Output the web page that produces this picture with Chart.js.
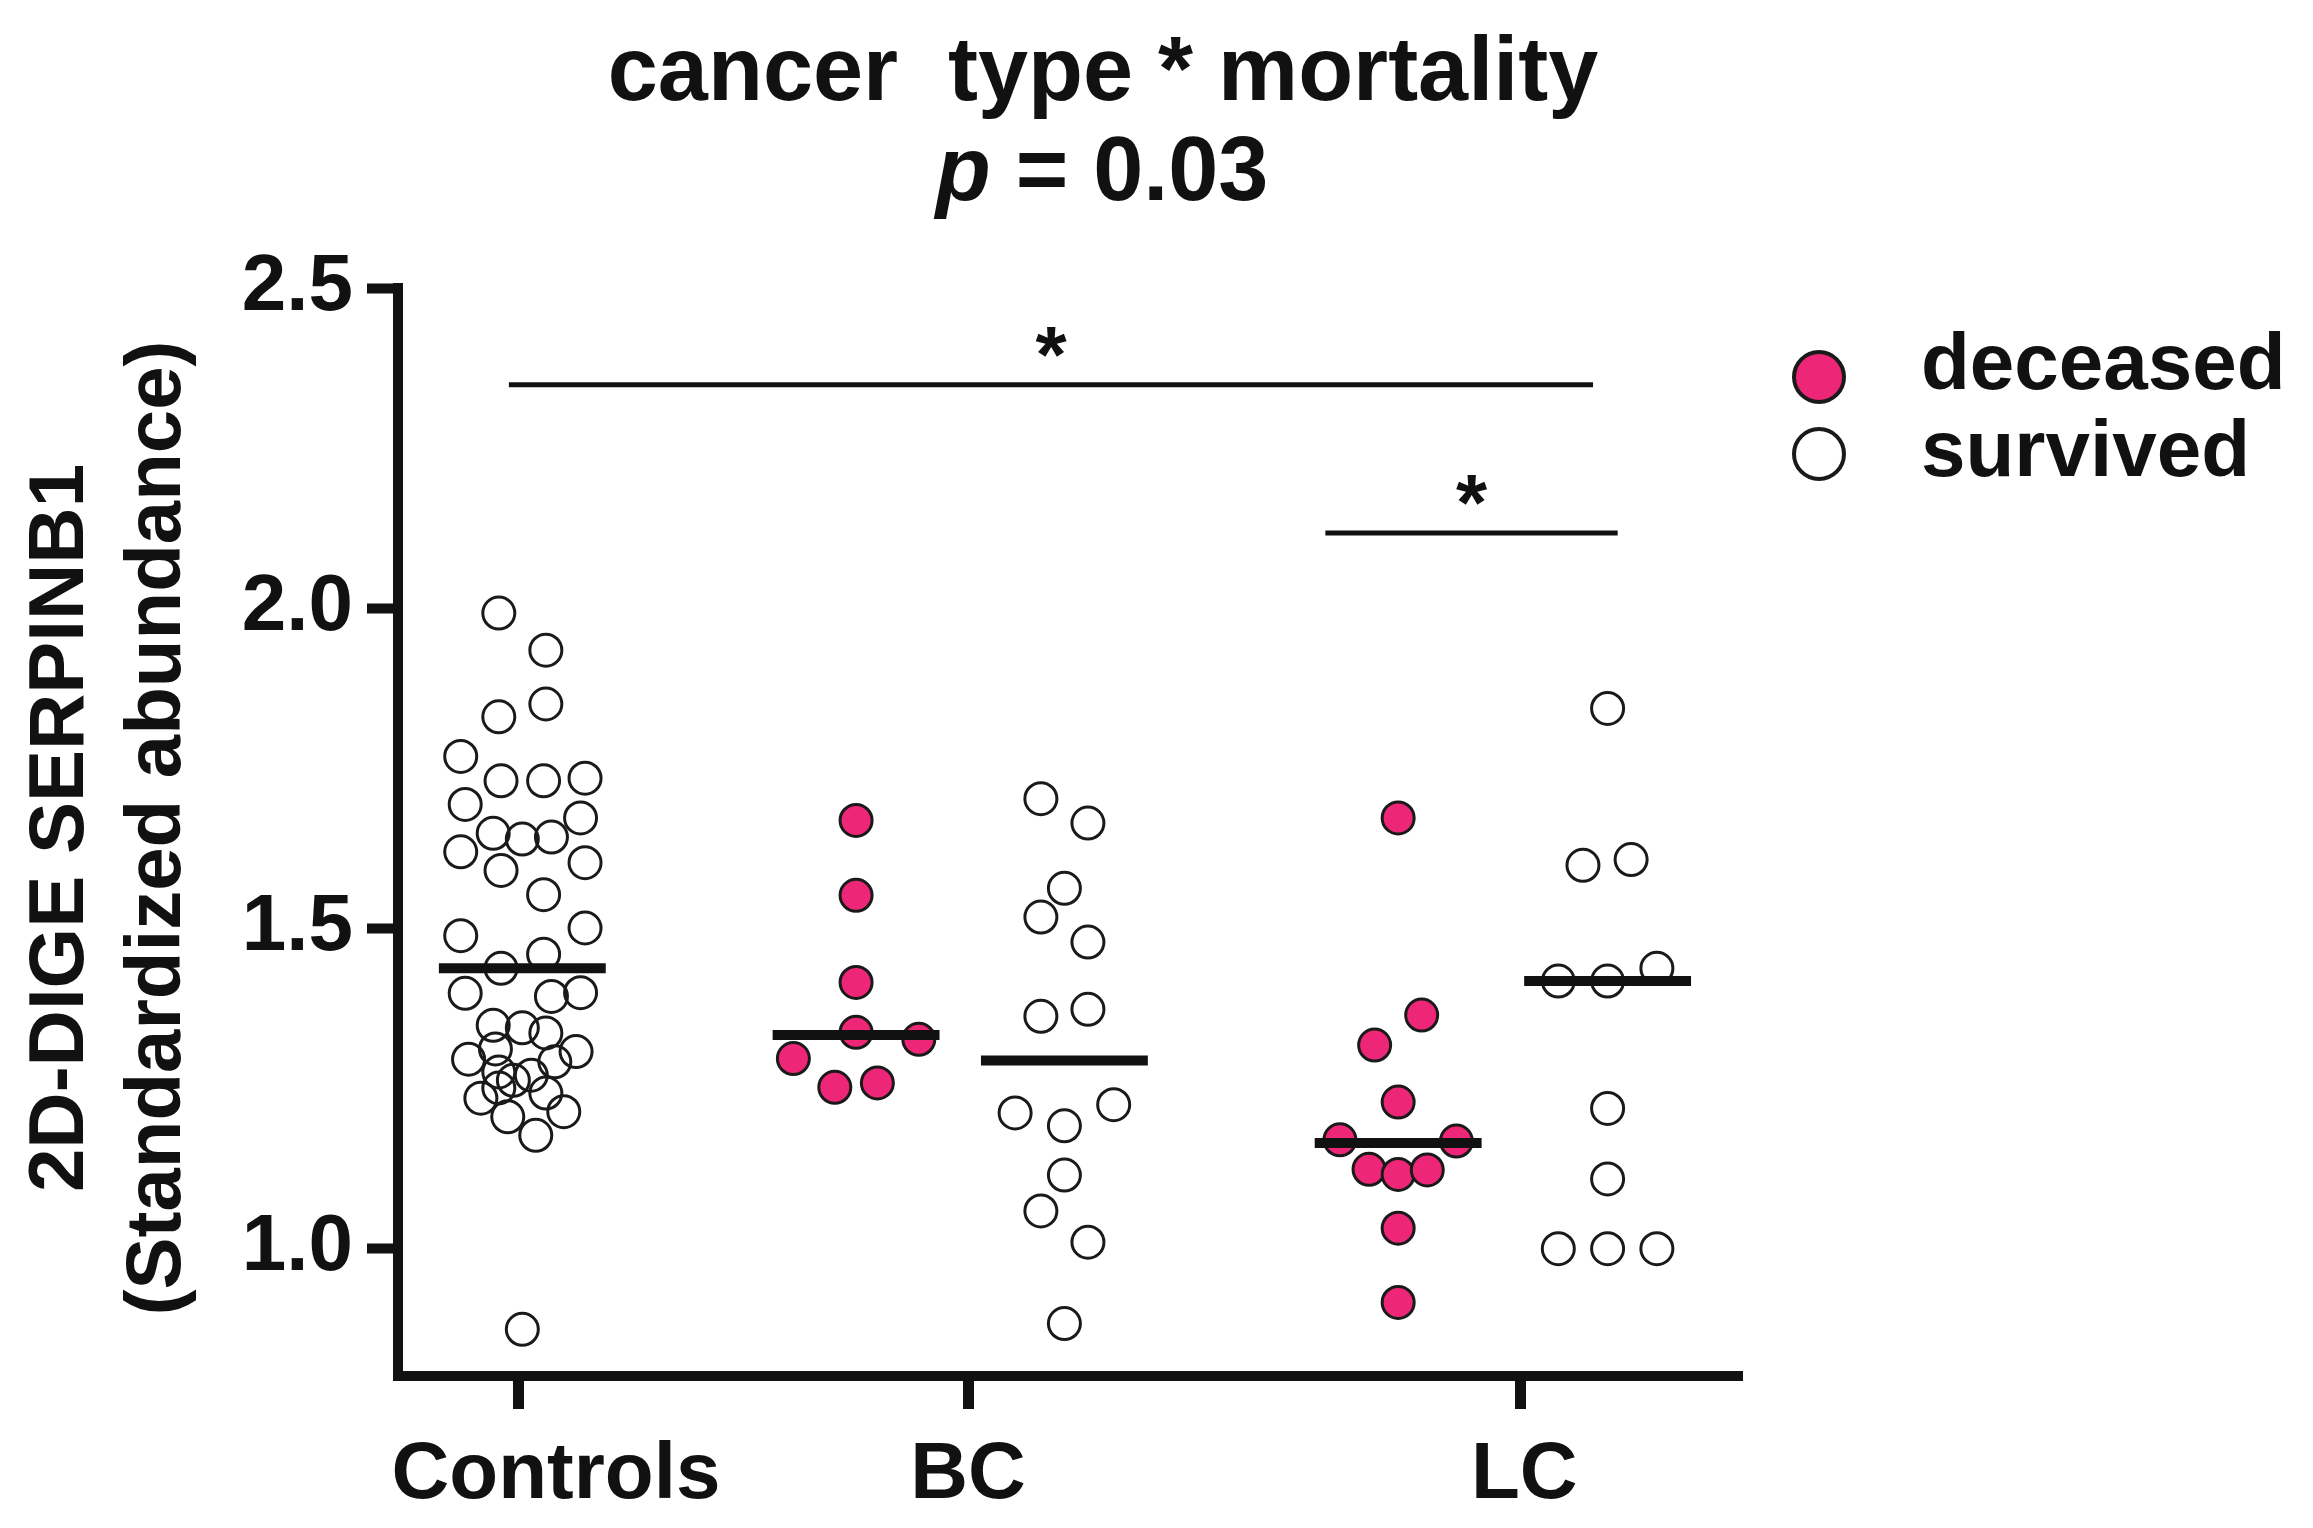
<!DOCTYPE html>
<html>
<head>
<meta charset="utf-8">
<script src="https://cdn.jsdelivr.net/npm/chart.js@4.4.1/dist/chart.umd.min.js"></script>
<style>
  html, body { margin: 0; padding: 0; background: #ffffff; }
  #wrap { width: 2313px; height: 1528px; position: relative; }
</style>
</head>
<body>
<div id="wrap"><canvas id="chart" width="2313" height="1528"></canvas></div>
<script>
// ---------------- DATA ----------------
const categories = ['Controls', 'BC', 'LC'];
const categoryTickX = [1.08, 5.09, 10.02];
const yTickValues = [1.0, 1.5, 2.0, 2.5];

const groupNames = ['Controls', 'BC deceased', 'BC survived', 'LC deceased', 'LC survived'];
const groupStatus = ['survived', 'deceased', 'survived', 'deceased', 'survived'];
const groupCenterX = [1.11, 4.09, 5.95, 8.93, 10.80];

const controlsValues = [1.992, 1.934, 1.850, 1.830, 1.768, 1.730, 1.730, 1.734, 1.693, 1.672,
                        1.648, 1.639, 1.642, 1.619, 1.602, 1.590, 1.552, 1.488, 1.500, 1.437,
                        1.459, 1.398, 1.393, 1.399, 1.348, 1.344, 1.336, 1.295, 1.311, 1.291,
                        1.307, 1.275, 1.270, 1.262, 1.234, 1.250, 1.242, 1.205, 1.213, 1.176, 0.873];
const controlsJitter = [-0.21, 0.21, 0.21, -0.21, -0.55, -0.19, 0.19, 0.56, -0.51, 0.52,
                        -0.26, 0, 0.26, -0.55, 0.56, -0.19, 0.19, -0.55, 0.56, -0.19,
                        0.19, -0.51, 0.26, 0.52, -0.26, 0, 0.21, -0.48, -0.24, 0.29,
                        0.48, -0.21, 0.08, -0.08, -0.37, -0.21, 0.21, -0.13, 0.37, 0.12, 0];

const bcDeceasedValues = [1.668, 1.551, 1.415, 1.337, 1.326, 1.296, 1.251, 1.258];
const bcDeceasedJitter = [0, 0, 0, 0, 0.56, -0.56, -0.19, 0.19];

const bcSurvivedValues = [1.702, 1.664, 1.562, 1.517, 1.478, 1.362, 1.373, 1.211, 1.191, 1.224, 1.114, 1.058, 1.009, 0.882];
const bcSurvivedJitter = [-0.21, 0.21, 0, -0.21, 0.21, -0.21, 0.21, -0.44, 0, 0.44, 0, -0.21, 0.21, 0];

const lcDeceasedValues = [1.672, 1.364, 1.317, 1.228, 1.169, 1.167, 1.123, 1.115, 1.122, 1.031, 0.915];
const lcDeceasedJitter = [0, 0.21, -0.21, 0, -0.52, 0.52, -0.26, 0, 0.26, 0, 0];

const lcSurvivedValues = [1.843, 1.598, 1.607, 1.417, 1.417, 1.437, 1.218, 1.108, 0.999, 0.999, 0.999];
const lcSurvivedJitter = [0, -0.22, 0.21, -0.44, 0, 0.44, 0, 0, -0.44, 0, 0.44];

const medianValues = [1.437, 1.333, 1.293, 1.164, 1.417];

const sigBarStartX = [0.99, 8.28];
const sigBarEndX = [10.67, 10.89];
const sigBarY = [2.349, 2.117];
const sigBarLabel = ['*', '*'];

const legendLabels = ['deceased', 'survived'];

// ---------------- STYLE ----------------
const FONT = "'Liberation Sans', Arial, Helvetica, sans-serif";
const INK = '#111111';
const PINK = '#EE2677';
const styles = {
  deceased: { bg: PINK, border: '#1a1a1a' },
  survived: { bg: 'rgba(255,255,255,0)', border: '#1a1a1a' }
};
const medianHalfWidth = 0.745;
const xLabelNudge = [37, 0, 4];

const groupValues = [controlsValues, bcDeceasedValues, bcSurvivedValues, lcDeceasedValues, lcSurvivedValues];
const groupJitter = [controlsJitter, bcDeceasedJitter, bcSurvivedJitter, lcDeceasedJitter, lcSurvivedJitter];

const datasets = [];
// median lines (drawn on top)
groupNames.forEach((name, g) => {
  datasets.push({
    label: name + ' median',
    data: [{ x: groupCenterX[g] - medianHalfWidth, y: medianValues[g] },
           { x: groupCenterX[g] + medianHalfWidth, y: medianValues[g] }],
    showLine: true,
    borderColor: INK,
    borderWidth: 10,
    borderCapStyle: 'butt',
    pointRadius: 0,
    order: 0
  });
});
// significance bars
sigBarY.forEach((y, i) => {
  datasets.push({
    label: 'significance ' + (i + 1),
    data: [{ x: sigBarStartX[i], y: y }, { x: sigBarEndX[i], y: y }],
    showLine: true,
    borderColor: INK,
    borderWidth: 5,
    borderCapStyle: 'butt',
    pointRadius: 0,
    order: 0
  });
});
// points
groupNames.forEach((name, g) => {
  const st = styles[groupStatus[g]];
  datasets.push({
    label: name,
    data: groupValues[g].map((v, i) => ({ x: groupCenterX[g] + groupJitter[g][i], y: v })),
    showLine: false,
    pointStyle: 'circle',
    pointRadius: 16,
    pointBorderWidth: 3,
    pointBackgroundColor: st.bg,
    pointBorderColor: st.border,
    order: 1
  });
});

const decor = {
  id: 'decor',
  afterDraw(chart) {
    const ctx = chart.ctx;
    const xs = chart.scales.x, ys = chart.scales.y;
    ctx.save();
    ctx.fillStyle = INK;

    // Title
    ctx.textAlign = 'center';
    ctx.textBaseline = 'alphabetic';
    ctx.font = `bold 90px ${FONT}`;
    ctx.fillText('cancer  type * mortality', 1103, 100);
    const pPart = 'p';
    const rest = ' = 0.03';
    ctx.font = `italic bold 90px ${FONT}`;
    const wp = ctx.measureText(pPart).width;
    ctx.font = `bold 90px ${FONT}`;
    const wr = ctx.measureText(rest).width;
    let sx = 1102 - (wp + wr) / 2;
    ctx.textAlign = 'left';
    ctx.font = `italic bold 90px ${FONT}`;
    ctx.fillText(pPart, sx, 200);
    ctx.font = `bold 90px ${FONT}`;
    ctx.fillText(rest, sx + wp, 200);

    // Y axis title (two lines, rotated)
    ctx.font = `bold 78px ${FONT}`;
    ctx.textAlign = 'center';
    [['2D-DIGE SERPINB1', 83], ['(Standardized abundance)', 180]].forEach(([t, bx]) => {
      ctx.save();
      ctx.translate(bx, 828);
      ctx.rotate(-Math.PI / 2);
      ctx.fillText(t, 0, 0);
      ctx.restore();
    });

    // X category labels
    ctx.font = `bold 80px ${FONT}`;
    ctx.textAlign = 'center';
    categories.forEach((c, i) => {
      ctx.fillText(c, xs.getPixelForValue(categoryTickX[i]) + xLabelNudge[i], 1498);
    });

    // Significance stars
    ctx.font = `bold 80px ${FONT}`;
    sigBarLabel.forEach((s, i) => {
      const px = xs.getPixelForValue((sigBarStartX[i] + sigBarEndX[i]) / 2);
      const py = ys.getPixelForValue(sigBarY[i]) - 3;
      ctx.fillText(s, px, py);
    });

    // Legend
    const legendY = [377, 454];
    const textY = [389, 476];
    legendLabels.forEach((lab, i) => {
      const st = styles[lab];
      ctx.beginPath();
      ctx.arc(1819, legendY[i], 25, 0, Math.PI * 2);
      ctx.fillStyle = st.bg === 'rgba(255,255,255,0)' ? '#ffffff' : st.bg;
      ctx.fill();
      ctx.lineWidth = 4;
      ctx.strokeStyle = st.border;
      ctx.stroke();
      ctx.fillStyle = INK;
      ctx.font = `bold 80px ${FONT}`;
      ctx.textAlign = 'left';
      ctx.fillText(lab, 1921, textY[i]);
    });

    // close the axis corner
    ctx.fillStyle = INK;
    ctx.fillRect(chart.chartArea.left - 5, chart.chartArea.bottom - 5, 10, 10);
    ctx.restore();
  }
};

new Chart(document.getElementById('chart'), {
  type: 'scatter',
  data: { datasets },
  options: {
    responsive: false,
    devicePixelRatio: 1,
    animation: false,
    events: [],
    clip: false,
    layout: { padding: { top: 288, right: 571, left: 0, bottom: 0 } },
    plugins: { legend: { display: false }, title: { display: false }, tooltip: { enabled: false } },
    scales: {
      x: {
        type: 'linear',
        min: 0,
        max: 12,
        afterBuildTicks: (s) => { s.ticks = categoryTickX.map(v => ({ value: v })); },
        afterFit: (s) => { s.height = 152; },
        ticks: { display: false, autoSkip: false },
        grid: { display: true, drawOnChartArea: false, drawTicks: true, tickLength: 33, tickWidth: 11, tickColor: INK },
        border: { display: true, width: 10, color: INK }
      },
      y: {
        type: 'linear',
        min: 0.8,
        max: 2.5,
        afterBuildTicks: (s) => { s.ticks = yTickValues.map(v => ({ value: v })); },
        afterFit: (s) => { s.width = 398; },
        ticks: {
          autoSkip: false,
          padding: 14,
          color: INK,
          font: { family: FONT, weight: 'bold', size: 80 },
          callback: (v) => Number(v).toFixed(1)
        },
        grid: { display: true, drawOnChartArea: false, drawTicks: true, tickLength: 31, tickWidth: 10, tickColor: INK },
        border: { display: true, width: 10, color: INK }
      }
    }
  },
  plugins: [decor]
});
</script>
</body>
</html>
